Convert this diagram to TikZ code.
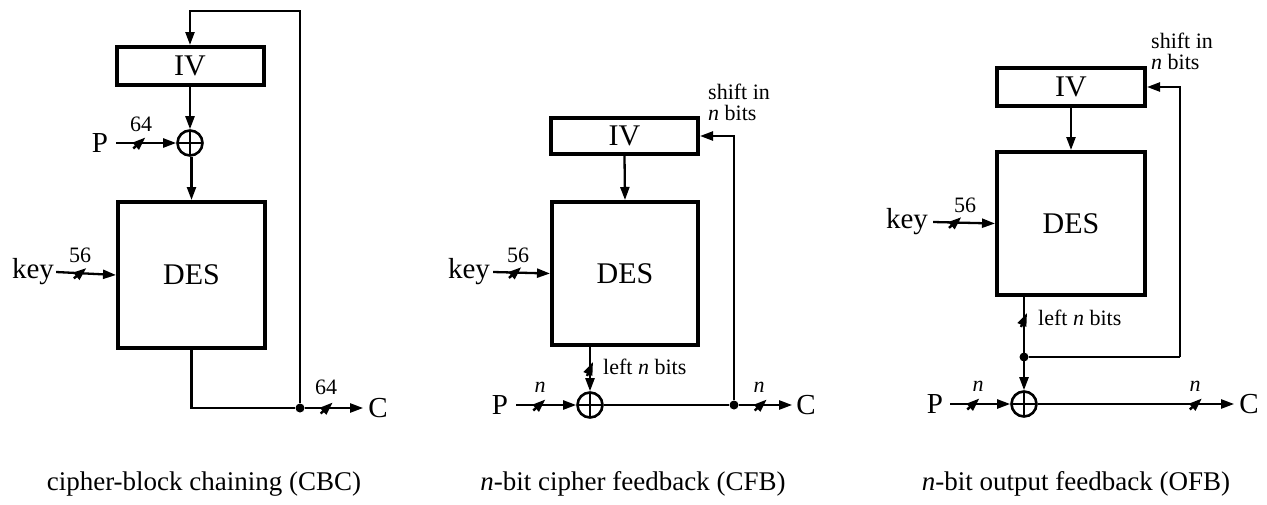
\documentclass[tikz,border=0pt]{standalone}
\usepackage{fontspec}
\setmainfont{Liberation Serif}
\usetikzlibrary{arrows.meta,decorations.markings,calc}
\newcommand\fsBig{\fontsize{30}{36}\selectfont}
\newcommand\fsLbl{\fontsize{29}{34}\selectfont}
\newcommand\fsNum{\fontsize{22}{24}\selectfont}
\newcommand\fsNote{\fontsize{22}{21}\selectfont}
\newcommand\fsCap{\fontsize{27}{30}\selectfont}
\begin{document}
\begin{tikzpicture}[x=1pt,y=-1pt,
  box/.style={draw, line width=4pt, inner sep=0pt, font=\fsBig},
  conn/.style={line width=2.3pt},
  arr/.style={conn, -{Triangle[length=13pt,width=9pt]}},
  xorn/.style={circle, draw, line width=2.6pt, minimum size=25pt, inner sep=0pt,
    path picture={\draw[line width=2.6pt] (path picture bounding box.north) -- (path picture bounding box.south)
      (path picture bounding box.west) -- (path picture bounding box.east);}},
  dotn/.style={circle, fill, inner sep=0pt, minimum size=9pt},
  lbl/.style={inner ysep=0pt, font=\fsLbl},
  num/.style={inner sep=0pt, font=\fsNum},
  note/.style={inner sep=0pt, font=\fsNote, align=left},
  capt/.style={inner sep=0pt, font=\fsCap},
  hbus/.style={postaction={decorate, decoration={markings, mark=at position #1 with {\draw[line width=2.4pt] (-6pt,-5.5pt) -- (6pt,5.5pt);}}}},
  vbus/.style={postaction={decorate, decoration={markings, mark=at position #1 with {\draw[line width=2.4pt] (7pt,-3pt) -- (-7pt,3pt);}}}}
]
\useasboundingbox (0,0) rectangle (1267,504);

% ---------------- CBC ----------------
\node[box, minimum width=147pt, minimum height=38pt] (IV1) at (190,66) {IV};
\node[xorn] (X1) at (190,143) {};
\node[box, minimum width=147pt, minimum height=146pt] (DES1) at (191.5,275) {DES};
\node[lbl, inner xsep=8pt] (P1) at (100,143) {P};
\node[lbl, inner xsep=2pt] (K1) at (33,272) {key};
\node[lbl, inner xsep=5pt] (C1) at (378,408) {C};
\node[dotn] (D1) at (300,408) {};
\coordinate (T1) at (300,11);
\node[num] (n1a) at (141,124) {64};
\node[num] (n1b) at (80,255) {56};
\node[num] (n1c) at (326,387) {64};
\draw[arr] (IV1.south) -- (X1.north);
\draw[arr] (X1.south -| DES1.north) -- (DES1.north);
\draw[arr, hbus=23pt] (P1.east) -- (X1.west);
\draw[arr, hbus=24pt] (K1.east) -- (DES1.west);
\draw[conn] (DES1.south) |- (D1.west);
\draw[arr] (D1.north) -- (T1) -| (IV1.north);
\draw[arr, hbus=22pt] (D1.east) -- (C1.west);
\node[capt] (cap1) at (204,484) {cipher-block chaining (CBC)};

% ---------------- CFB ----------------
\node[box, minimum width=147pt, minimum height=36pt] (IV2) at (624.5,136) {IV};
\node[box, minimum width=146pt, minimum height=143pt] (DES2) at (625,273.5) {DES};
\node[xorn] (X2) at (590,405) {};
\node[lbl, inner xsep=8pt] (P2) at (500,405) {P};
\node[lbl, inner xsep=3pt] (K2) at (469,272) {key};
\node[lbl, inner xsep=4pt] (C2) at (806,405) {C};
\node[dotn] (D2) at (734,405) {};
\node[num, font=\fsNum\itshape] (n2a) at (540,387) {n};
\node[num] (n2b) at (518,255) {56};
\node[num, font=\fsNum\itshape] (n2c) at (759,387) {n};
\node[note, anchor=north west] (s2) at (708,84) {shift in\\\textit{n} bits};
\node[note, anchor=west] (l2) at (603,367) {left \textit{n} bits};
\draw[arr] (IV2.south) -- (DES2.north);
\draw[arr, hbus=22pt] (K2.east) -- (DES2.west);
\draw[arr, vbus=22pt] (DES2.south -| X2.north) -- (X2.north);
\draw[arr, hbus=23pt] (P2.east) -- (X2.west);
\draw[conn] (X2.east) -- (D2.west);
\draw[arr] (D2.north) |- (IV2.east);
\draw[arr, hbus=22pt] (D2.east) -- (C2.west);
\node[capt] (cap2) at (633,484) {\textit{n}-bit cipher feedback (CFB)};

% ---------------- OFB ----------------
\node[box, minimum width=148pt, minimum height=38pt] (IV3) at (1071,87) {IV};
\node[box, minimum width=148pt, minimum height=143pt] (DES3) at (1071,223.5) {DES};
\node[xorn] (X3) at (1024,404) {};
\node[lbl, inner xsep=7pt] (P3) at (935,404) {P};
\node[lbl, inner xsep=5pt] (K3) at (907,222) {key};
\node[lbl, inner xsep=5pt] (C3) at (1249,404) {C};
\node[dotn] (D3) at (1024,357) {};
\coordinate (R3) at (1180,357);
\node[num, font=\fsNum\itshape] (n3a) at (978,386) {n};
\node[num] (n3b) at (965,205) {56};
\node[num, font=\fsNum\itshape] (n3c) at (1195,386) {n};
\node[note, anchor=north west] (s3) at (1151,33) {shift in\\\textit{n} bits};
\node[note, anchor=west] (l3) at (1038,318) {left \textit{n} bits};
\draw[arr] (IV3.south) -- (DES3.north);
\draw[arr, hbus=22pt] (K3.east) -- (DES3.west);
\draw[arr, vbus=23pt] (DES3.south -| X3.north) -- (X3.north);
\draw[conn] (D3.east) -- (R3);
\draw[arr] (R3) |- (IV3.east);
\draw[arr, hbus=23pt] (P3.east) -- (X3.west);
\draw[arr, hbus=158pt] (X3.east) -- (C3.west);
\node[capt] (cap3) at (1076,484) {\textit{n}-bit output feedback (OFB)};
\end{tikzpicture}
\end{document}
